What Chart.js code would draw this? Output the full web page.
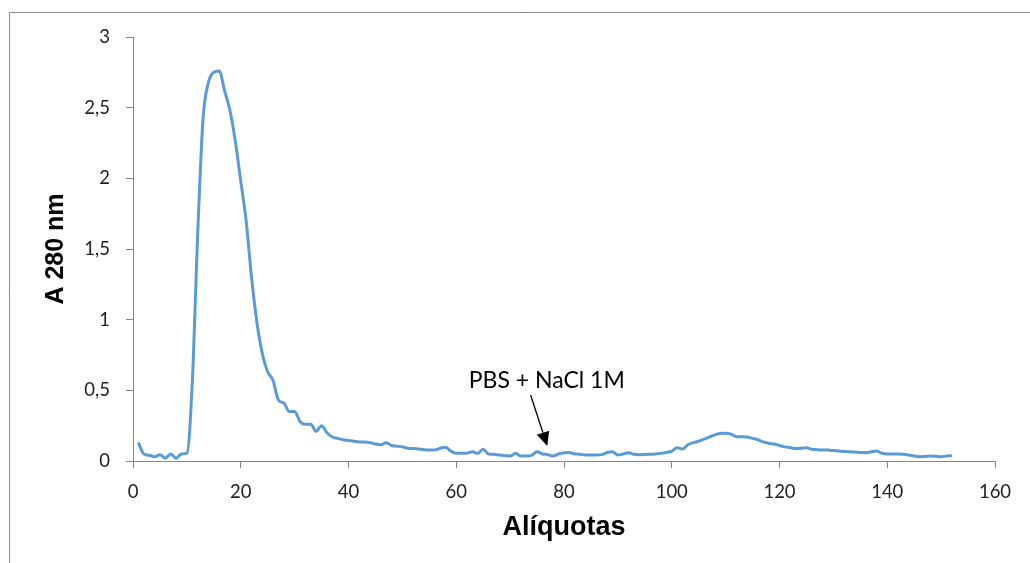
<!DOCTYPE html>
<html>
<head>
<meta charset="utf-8">
<script src="https://cdn.jsdelivr.net/npm/chart.js@4/dist/chart.umd.min.js"></script>
<style>
  html, body { margin: 0; padding: 0; background: #ffffff; }
  #wrap { position: relative; width: 1030px; height: 563px; }
</style>
</head>
<body>
<div id="wrap"><canvas id="c" width="1030" height="563"></canvas></div>
<script>
// ---- Data ----
const firstAliquota = 1;
const absorbance280 = [
  0.13, 0.05, 0.04, 0.03, 0.045, 0.02, 0.05, 0.02, 0.05, 0.055,
  0.55, 1.6, 2.42, 2.68, 2.75, 2.76, 2.62, 2.48, 2.26, 1.98,
  1.7, 1.3, 0.98, 0.76, 0.63, 0.57, 0.43, 0.41, 0.35, 0.35,
  0.28, 0.26, 0.26, 0.21, 0.25, 0.2, 0.17, 0.16, 0.15, 0.145,
  0.14, 0.135, 0.135, 0.13, 0.12, 0.115, 0.13, 0.11, 0.105, 0.1,
  0.09, 0.088, 0.085, 0.08, 0.078, 0.078, 0.09, 0.097, 0.07, 0.055,
  0.054, 0.055, 0.066, 0.054, 0.083, 0.05, 0.048, 0.042, 0.038, 0.035,
  0.054, 0.035, 0.035, 0.04, 0.066, 0.05, 0.045, 0.035, 0.05, 0.058,
  0.06, 0.05, 0.048, 0.042, 0.042, 0.042, 0.045, 0.06, 0.066, 0.042,
  0.05, 0.058, 0.048, 0.045, 0.046, 0.048, 0.05, 0.054, 0.06, 0.07,
  0.094, 0.085, 0.115, 0.13, 0.14, 0.155, 0.17, 0.185, 0.195, 0.196,
  0.19, 0.172, 0.172, 0.17, 0.16, 0.15, 0.135, 0.125, 0.12, 0.11,
  0.1, 0.095, 0.088, 0.09, 0.094, 0.083, 0.08, 0.078, 0.077, 0.074,
  0.071, 0.068, 0.065, 0.063, 0.06, 0.059, 0.065, 0.07, 0.055, 0.05,
  0.05, 0.05, 0.048, 0.042, 0.035, 0.03, 0.032, 0.035, 0.033, 0.03,
  0.035, 0.038
];
const xTicks = [0, 20, 40, 60, 80, 100, 120, 140, 160];
const yTicks = [0, 0.5, 1, 1.5, 2, 2.5, 3];
const xTitle = 'Alíquotas';
const yTitle = 'A 280 nm';

// annotation (in data units)
const noteText = 'PBS + NaCl 1M';
const noteTextAt = [76.8, 0.57];
const noteArrowFrom = [73.8, 0.467];
const noteArrowTo = [76.9, 0.106];

// ---- Build points ----
const points = absorbance280.map((v, i) => ({ x: firstAliquota + i, y: v }));

const axisColor = '#868686';
const tickFont = { family: 'Lato, "Open Sans", sans-serif', size: 18.5 };
const xTitleFont = { family: '"Liberation Sans", Arial, sans-serif', size: 27, weight: 'bold' };
const yTitleFont = { family: '"Liberation Sans", Arial, sans-serif', size: 25, weight: 'bold' };

const framePlugin = {
  id: 'frame',
  beforeDraw(chart) {
    const ctx = chart.ctx;
    ctx.save();
    ctx.fillStyle = '#ffffff';
    ctx.fillRect(0, 0, chart.width, chart.height);
    ctx.strokeStyle = '#8c8c8c';
    ctx.lineWidth = 1;
    ctx.beginPath();
    ctx.moveTo(9.5, chart.height + 2);
    ctx.lineTo(9.5, 12.5);
    ctx.lineTo(chart.width + 2, 12.5);
    ctx.stroke();
    ctx.restore();
  }
};

const notePlugin = {
  id: 'note',
  afterDatasetsDraw(chart) {
    const { ctx, scales: { x, y } } = chart;
    ctx.save();
    ctx.fillStyle = '#000000';
    ctx.strokeStyle = '#000000';
    ctx.font = '23px Lato, "Open Sans", sans-serif';
    ctx.textAlign = 'center';
    ctx.textBaseline = 'middle';
    ctx.fillText(noteText, x.getPixelForValue(noteTextAt[0]), y.getPixelForValue(noteTextAt[1]));
    const x1 = x.getPixelForValue(noteArrowFrom[0]), y1 = y.getPixelForValue(noteArrowFrom[1]);
    const x2 = x.getPixelForValue(noteArrowTo[0]), y2 = y.getPixelForValue(noteArrowTo[1]);
    const ang = Math.atan2(y2 - y1, x2 - x1);
    const headLen = 14, headHalf = 6.5;
    const bx = x2 - headLen * Math.cos(ang), by = y2 - headLen * Math.sin(ang);
    ctx.lineWidth = 1.3;
    ctx.beginPath();
    ctx.moveTo(x1, y1);
    ctx.lineTo(bx, by);
    ctx.stroke();
    ctx.beginPath();
    ctx.moveTo(x2, y2);
    ctx.lineTo(bx + headHalf * Math.sin(ang), by - headHalf * Math.cos(ang));
    ctx.lineTo(bx - headHalf * Math.sin(ang), by + headHalf * Math.cos(ang));
    ctx.closePath();
    ctx.fill();
    ctx.restore();
  }
};

new Chart(document.getElementById('c'), {
  type: 'line',
  data: {
    datasets: [{
      data: points,
      borderColor: '#5B9BD5',
      borderWidth: 3,
      pointRadius: 0,
      fill: false,
      cubicInterpolationMode: 'monotone'
    }]
  },
  options: {
    responsive: false,
    animation: false,
    devicePixelRatio: 1,
    layout: { padding: { left: 0, right: 35, top: 37, bottom: 0 } },
    plugins: { legend: { display: false }, tooltip: { enabled: false } },
    scales: {
      x: {
        type: 'linear',
        min: xTicks[0],
        max: xTicks[xTicks.length - 1],
        afterBuildTicks(scale) { scale.ticks = xTicks.map(v => ({ value: v })); },
        afterFit(scale) { scale.height = 102; },
        grid: { drawOnChartArea: false, drawTicks: true, tickLength: 7, color: axisColor },
        border: { color: axisColor, width: 1 },
        ticks: { color: '#222', font: tickFont, padding: 13, maxRotation: 0 },
        title: { display: true, text: xTitle, color: '#000', font: xTitleFont, padding: { top: 0, bottom: 19 } }
      },
      y: {
        type: 'linear',
        min: yTicks[0],
        max: yTicks[yTicks.length - 1],
        afterBuildTicks(scale) { scale.ticks = yTicks.map(v => ({ value: v })); },
        afterFit(scale) { scale.width = 133; },
        grid: { drawOnChartArea: false, drawTicks: true, tickLength: 7, color: axisColor },
        border: { color: axisColor, width: 1 },
        ticks: {
          color: '#222', font: tickFont, padding: 16,
          callback: v => String(v).replace('.', ',')
        },
        title: { display: true, text: yTitle, color: '#000', font: yTitleFont, padding: { top: 41, bottom: 0 } }
      }
    }
  },
  plugins: [framePlugin, notePlugin]
});
</script>
</body>
</html>
